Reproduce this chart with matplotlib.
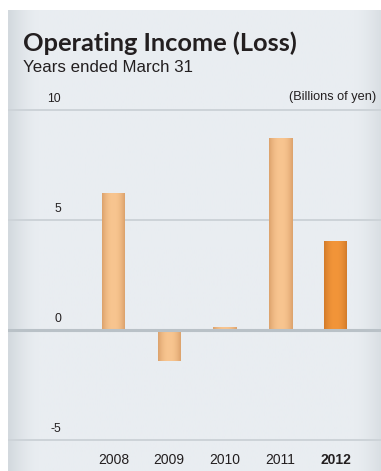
import numpy as np
import matplotlib
matplotlib.use("Agg")
import matplotlib.pyplot as plt
from matplotlib.colors import to_rgb

# Operating income (loss), billions of yen, years ended March 31
years = ["2008", "2009", "2010", "2011", "2012"]
income = [6.2, -1.4, 0.1, 8.7, 4.0]
yticks = [10, 5, 0, -5]

W, H = 381, 471
fig = plt.figure(figsize=(W / 100, H / 100), dpi=100)
fig.patch.set_facecolor("white")

# panel rectangle in pixels
px0, px1, py0, py1 = 8, 381, 10, 471
rect = [px0 / W, 1 - py1 / H, (px1 - px0) / W, (py1 - py0) / H]

# background panel with soft edge shading
bg = fig.add_axes(rect)
bg.set_axis_off()
nx = 200
xs = np.linspace(0, 1, nx)
base = np.array(to_rgb("#e9edf1"))
edge = np.array(to_rgb("#d3d9de"))
shade = np.clip(1 - xs / 0.08, 0, 1) ** 1.5 + np.clip((xs - 0.93) / 0.07, 0, 1) ** 1.5 * 0.7
img = base[None, :] * (1 - shade[:, None]) + edge[None, :] * shade[:, None]
bg.imshow(img[None, :, :], aspect="auto", extent=[0, 1, 0, 1])
bg.set_xlim(0, 1)
bg.set_ylim(0, 1)

# main chart axes, same region
ax = fig.add_axes(rect)
ax.patch.set_alpha(0)
x = np.arange(len(years))
# pixel mapping: bar centre = 113.5 + 55.5 * i, value 0 at y=330, 22 px per unit
xl = ((px0 - 113.5) / 55.5, (px1 - 113.5) / 55.5)
yl = ((330 - py1) / 22, (330 - py0) / 22)
ax.set_xlim(*xl)
ax.set_ylim(*yl)
for s in ax.spines.values():
    s.set_visible(False)
ax.set_xticks([])
ax.set_yticks([])

for t in yticks:
    if t == 0:
        ax.axhline(t, color="#b9c1c7", lw=2.2, zorder=3)
    else:
        ax.axhline(t, color="#cdd3d8", lw=1.4, zorder=1)
    ax.annotate(str(t), xy=(0, t), xycoords=("axes fraction", "data"),
                xytext=(53, 5), textcoords="offset pixels",
                ha="right", va="bottom", fontsize=8.8, color="#231f20",
                family="Liberation Sans")

light_c, light_e = "#f8c590", "#dca26c"
dark_c, dark_e = "#f29539", "#d27b2a"
bw = 23 / 55.5
bars = ax.bar(x, income, width=bw, color="none", zorder=2)
for i, b in enumerate(bars):
    c, e = (dark_c, dark_e) if i == len(years) - 1 else (light_c, light_e)
    c, e = np.array(to_rgb(c)), np.array(to_rgb(e))
    g = np.linspace(-1, 1, 50)
    w = np.abs(g) ** 2.2
    grad = c[None, :] * (1 - w[:, None]) + e[None, :] * w[:, None]
    x0, y0 = b.get_x(), b.get_y()
    bwid, bh = b.get_width(), b.get_height()
    ylo, yhi = min(y0, y0 + bh), max(y0, y0 + bh)
    if income[i] < 0:
        yhi -= 0.07
    ax.imshow(grad[None, :, :], aspect="auto", extent=[x0, x0 + bwid, ylo, yhi],
              zorder=2, interpolation="bilinear")
ax.set_xlim(*xl)
ax.set_ylim(*yl)

for i, yr in enumerate(years):
    ax.annotate(yr, xy=(i, 0), xycoords=("data", "axes fraction"),
                xytext=(0, 11), textcoords="offset pixels",
                ha="center", va="center", fontsize=10,
                color="#231f20", family="Liberation Sans",
                fontweight="bold" if i == len(years) - 1 else "normal")

fig.text(23 / W, 1 - 51 / H, "Operating Income (Loss)", fontsize=18.3,
         fontweight="bold", family="Lato", color="#231f20", ha="left", va="baseline")
fig.text(23 / W, 1 - 72 / H, "Years ended March 31", fontsize=12.2,
         family="Liberation Sans", color="#231f20", ha="left", va="baseline")
fig.text(376 / W, 1 - 100 / H, "(Billions of yen)", fontsize=9.2,
         family="Liberation Sans", color="#231f20", ha="right", va="baseline")

fig.savefig("out.png", dpi=100)
